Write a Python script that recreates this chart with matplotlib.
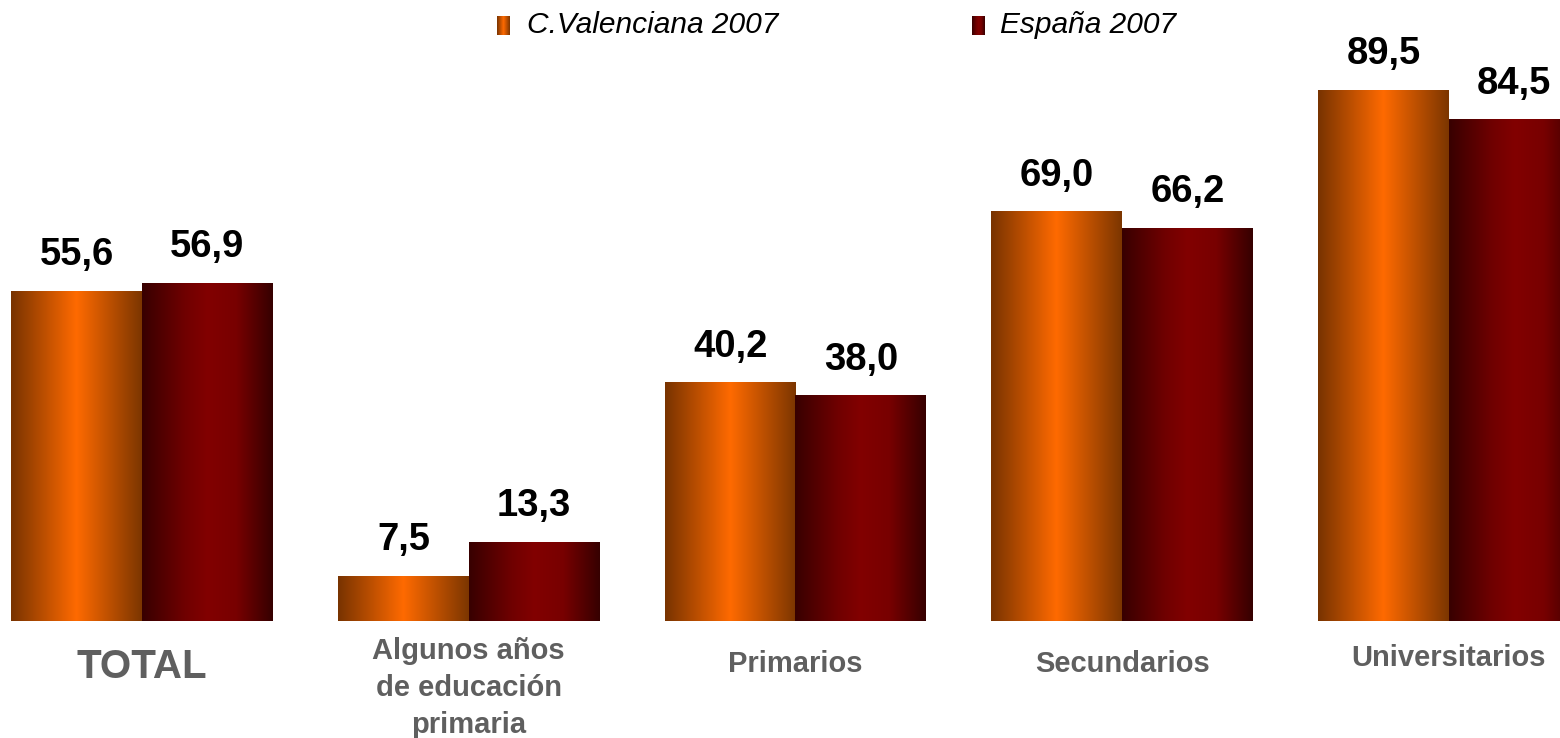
import numpy as np
import matplotlib.pyplot as plt
from matplotlib.colors import LinearSegmentedColormap

# Data
categories = ["TOTAL", "Algunos años\nde educación\nprimaria", "Primarios", "Secundarios", "Universitarios"]
series_names = ["C.Valenciana 2007", "España 2007"]
cv_2007 = [55.6, 7.5, 40.2, 69.0, 89.5]
es_2007 = [56.9, 13.3, 38.0, 66.2, 84.5]

# label vertical positions (data units below the baseline) and sizes
label_y = [-7.8, -11.3, -7.3, -7.3, -6.2]
label_size = [29, 21, 21, 21, 21]

plt.rcParams['font.family'] = ['Liberation Sans', 'DejaVu Sans']

orange_cmap = LinearSegmentedColormap.from_list(
    "orange", [(0, "#783300"), (0.5, "#ff6a00"), (1, "#7c3600")])
red_cmap = LinearSegmentedColormap.from_list(
    "red", [(0, "#380000"), (0.33, "#700000"), (0.5, "#820000"), (0.72, "#780000"), (1, "#360000")])
grad = np.linspace(0, 1, 256).reshape(1, -1)

fig = plt.figure(figsize=(15.6, 7.38), dpi=100)
ax = fig.add_axes([0, 0.1585, 1, 0.8415])

width = 0.4
x = np.arange(len(categories))

def grad_bars(xs, vals, cmap):
    for xi, v in zip(xs, vals):
        ax.imshow(grad, extent=[xi - width / 2, xi + width / 2, 0, v],
                  aspect='auto', cmap=cmap, interpolation='bilinear', zorder=2)
        ax.annotate(f"{v:.1f}".replace('.', ','), (xi, v), xytext=(0, 13),
                    textcoords='offset points', ha='center', va='bottom',
                    fontsize=27.5, fontweight='bold', color='black')

grad_bars(x - width / 2, cv_2007, orange_cmap)
grad_bars(x + width / 2, es_2007, red_cmap)

for xi, cat, yy, fs in zip(x, categories, label_y, label_size):
    ax.text(xi, yy, cat, ha='center', va='center', fontsize=fs,
            fontweight='bold', color='#5f5f5f', linespacing=1.4, clip_on=False)

ax.set_xlim(-0.4346, 4.34)
ax.set_ylim(0, 104.7)
ax.axis('off')

# legend
leg = [(0.3186, 0.338, series_names[0], orange_cmap),
       (0.6231, 0.641, series_names[1], red_cmap)]
for px, tx, name, cmap in leg:
    lax = fig.add_axes([px, 0.953, 0.0077, 0.025])
    lax.imshow(grad, aspect='auto', cmap=cmap)
    lax.axis('off')
    fig.text(tx, 0.966, name, ha='left', va='center', fontsize=21.5,
             style='italic')

plt.savefig("out.png", dpi=100)
